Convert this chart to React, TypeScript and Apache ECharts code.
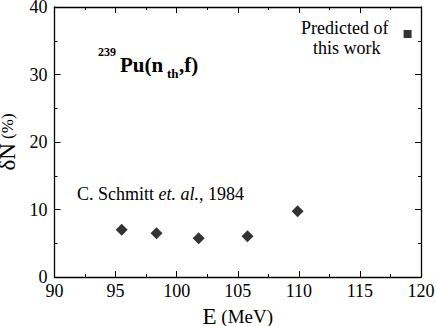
import React, { useEffect, useRef } from "react";
import * as echarts from "echarts";

const schmittE = [95.5, 98.35, 101.8, 105.8, 109.9];
const schmittDN = [7.0, 6.5, 5.75, 6.05, 9.75];
const predictedE = [118.9];
const predictedDN = [36.0];
const xTicks = [90, 95, 100, 105, 110, 115, 120];
const yTicks = [0, 10, 20, 30, 40];

const FONT = "Liberation Serif";

export default function App() {
  const ref = useRef<HTMLDivElement>(null);
  useEffect(() => {
    if (!ref.current) return;
    const chart = echarts.init(ref.current, null, { renderer: "svg" });
    const axisCommon = {
      axisLine: { show: true, onZero: false, lineStyle: { color: "#000", width: 1.3 } },
      splitLine: { show: false },
      minorTick: { show: true, splitNumber: 2, length: 3, lineStyle: { color: "#000", width: 1 } },
      axisTick: { show: true, inside: true, length: 6, lineStyle: { color: "#000", width: 1 } },
    };
    const txt = (size: number, extra: any = {}) => ({
      fontFamily: FONT,
      fontSize: size,
      fill: "#000",
      ...extra,
    });
    chart.setOption({
      animation: false,
      backgroundColor: "#fff",
      textStyle: { fontFamily: FONT, color: "#000" },
      grid: { left: 54.5, right: 15, top: 7, bottom: 49, outerBoundsMode: "none", containLabel: false },
      xAxis: [
        {
          type: "value",
          min: xTicks[0],
          max: xTicks[xTicks.length - 1],
          interval: 5,
          position: "bottom",
          ...axisCommon,
          axisLabel: { color: "#000", fontFamily: FONT, fontSize: 18, margin: 5 },
          name: "{a|E}{b| (MeV)}",
          nameLocation: "middle",
          nameGap: 16,
          nameTextStyle: {
            color: "#000",
            fontFamily: FONT,
            verticalAlign: "top",
            rich: {
              a: { fontFamily: FONT, fontSize: 23, color: "#000" },
              b: { fontFamily: FONT, fontSize: 19, color: "#000" },
            },
          },
        },
        {
          type: "value",
          min: xTicks[0],
          max: xTicks[xTicks.length - 1],
          interval: 5,
          position: "top",
          ...axisCommon,
          axisLabel: { show: false },
        },
      ],
      yAxis: [
        {
          type: "value",
          min: yTicks[0],
          max: yTicks[yTicks.length - 1],
          interval: 10,
          position: "left",
          ...axisCommon,
          axisLabel: { color: "#000", fontFamily: FONT, fontSize: 18, margin: 7 },
          name: "{a|δN}{b| (%)}",
          nameLocation: "middle",
          nameGap: 26,
          nameTextStyle: {
            color: "#000",
            fontFamily: FONT,
            rich: {
              a: { fontFamily: FONT, fontSize: 23, color: "#000" },
              b: { fontFamily: FONT, fontSize: 17, color: "#000" },
            },
          },
        },
        {
          type: "value",
          min: yTicks[0],
          max: yTicks[yTicks.length - 1],
          interval: 10,
          position: "right",
          ...axisCommon,
          axisLabel: { show: false },
        },
      ],
      series: [
        {
          type: "scatter",
          name: "Schmitt",
          symbol: "diamond",
          symbolSize: [12, 12],
          itemStyle: { color: "#000" },
          data: schmittE.map((e, i) => [e, schmittDN[i]]),
        },
        {
          type: "scatter",
          name: "Predicted",
          symbol: "rect",
          symbolSize: 8,
          itemStyle: { color: "#000" },
          data: predictedE.map((e, i) => [e, predictedDN[i]]),
        },
      ],
      graphic: [
        { type: "text", left: 98, top: 46, style: { text: "239", ...txt(12, { fontWeight: "bold" }) } },
        { type: "text", left: 120, top: 54, style: { text: "Pu(n", ...txt(21, { fontWeight: "bold" }) } },
        { type: "text", left: 167, top: 67, style: { text: "th", ...txt(13, { fontWeight: "bold" }) } },
        { type: "text", left: 179, top: 54, style: { text: ",f)", ...txt(21, { fontWeight: "bold" }) } },
        { type: "text", left: 301, top: 19, style: { text: "Predicted of", ...txt(18) } },
        { type: "text", left: 313, top: 39, style: { text: "this work", ...txt(18) } },
        {
          type: "text",
          left: 77,
          top: 185,
          style: {
            text: "{n|C. Schmitt }{i|et. al.}{n|, 1984}",
            fill: "#000",
            rich: {
              n: { fontFamily: FONT, fontSize: 18, fill: "#000" },
              i: { fontFamily: FONT, fontSize: 18, fontStyle: "italic", fill: "#000" },
            },
          },
        },
      ],
    });
    return () => chart.dispose();
  }, []);
  return (
    <div
      ref={ref}
      style={{ position: "fixed", left: 0, top: 0, width: 436, height: 326, background: "#fff" }}
    />
  );
}
